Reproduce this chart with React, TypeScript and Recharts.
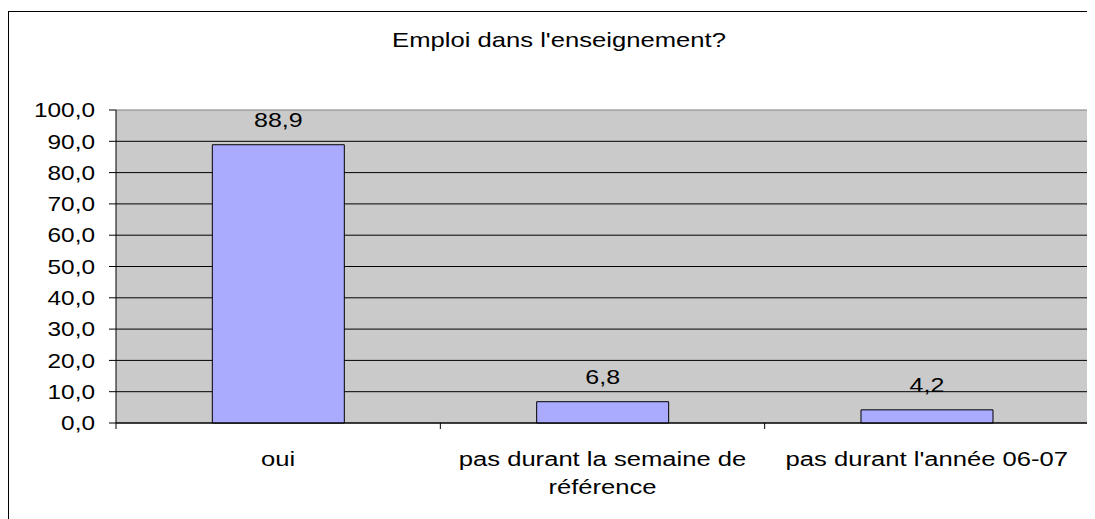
import React from 'react';
import { BarChart, Bar, XAxis, YAxis, CartesianGrid, LabelList } from 'recharts';

const title = "Emploi dans l'enseignement?";
const categories = ['oui', 'pas durant la semaine de référence', "pas durant l'année 06-07"];
const values = [88.9, 6.8, 4.2];
const yTicks = [0, 10, 20, 30, 40, 50, 60, 70, 80, 90, 100];

const data = categories.map((name, i) => ({ name, value: values[i] }));

const FONT = '"Liberation Sans", Arial, sans-serif';
const S = 1.22; // horizontal stretch of the original picture's text
const fmt = (v: number) => v.toFixed(1).replace('.', ',');

let measureCtx: CanvasRenderingContext2D | null = null;
function wrapText(text: string, maxWidth: number, fontSize: number): string[] {
  if (!measureCtx && typeof document !== 'undefined') {
    measureCtx = document.createElement('canvas').getContext('2d');
  }
  const measure = (s: string) => {
    if (measureCtx) {
      measureCtx.font = `${fontSize}px ${FONT}`;
      return measureCtx.measureText(s).width;
    }
    return s.length * fontSize * 0.5;
  };
  const words = text.split(' ');
  const lines: string[] = [];
  let cur = '';
  for (const w of words) {
    const cand = cur ? cur + ' ' + w : w;
    if (cur && measure(cand) > maxWidth) {
      lines.push(cur);
      cur = w;
    } else {
      cur = cand;
    }
  }
  if (cur) lines.push(cur);
  return lines;
}

function XTick(props: any) {
  const { x, y, payload, index, visibleTicksCount, width } = props;
  const band = payload && payload.offset ? payload.offset * 2 : width / visibleTicksCount;
  const left = x - band / 2;
  const right = x + band / 2;
  const lines = wrapText(String(payload.value), (band - 16) / S, 21);
  return (
    <g>
      <line x1={left} x2={left} y1={y} y2={y + 6} stroke="#000" />
      {index === visibleTicksCount - 1 && <line x1={right} x2={right} y1={y} y2={y + 6} stroke="#000" />}
      <text
        transform={`translate(${x} ${y}) scale(${S} 1)`}
        textAnchor="middle"
        fontSize={21}
        fontFamily={FONT}
        fill="#000"
      >
        {lines.map((l, i) => (
          <tspan key={i} x={0} y={43 + i * 28.5}>
            {l}
          </tspan>
        ))}
      </text>
    </g>
  );
}

function YTick(props: any) {
  const { x, y, payload } = props;
  return (
    <text
      transform={`translate(${x} ${y}) scale(${S} 1)`}
      x={0}
      y={0}
      dy={7.2}
      textAnchor="end"
      fontSize={20}
      fontFamily={FONT}
      fill="#000"
    >
      {fmt(payload.value)}
    </text>
  );
}

function BarLabel(props: any) {
  const { x, y, width, value } = props;
  const cx = Number(x) + Number(width) / 2;
  const by = Number(y) - 18;
  return (
    <text
      transform={`translate(${cx} ${by}) scale(${S} 1)`}
      x={0}
      y={0}
      textAnchor="middle"
      fontSize={20.5}
      fontFamily={FONT}
      fill="#000"
    >
      {fmt(Number(value))}
    </text>
  );
}

const hLine = (p: any) => (
  <line
    key={p.key}
    x1={p.x1}
    y1={p.y1}
    x2={p.x2}
    y2={p.y2}
    stroke={p.y !== undefined && Math.abs(p.y1 - p.y) < 1 ? '#808080' : '#000'}
    strokeWidth={1}
  />
);

const vLine = (p: any) => {
  const top = p.y !== undefined ? p.y : p.y1;
  const bottom = p.y !== undefined && p.height !== undefined ? p.y + p.height : p.y2;
  return <line key={p.key} x1={p.x1} y1={top} x2={p.x2} y2={bottom} stroke="#808080" strokeWidth={1} />;
};

export default function App() {
  return (
    <div style={{ position: 'relative', width: 1100, height: 511, overflow: 'hidden', background: '#fff' }}>
      <style>{'html,body{overflow:hidden;}'}</style>
      <div
        style={{
          position: 'absolute',
          left: 0,
          top: 3,
          width: 1100,
          height: 508,
          borderTop: '1px solid #000',
          borderLeft: '1px solid #000',
          boxSizing: 'border-box',
        }}
      />
      <div
        style={{
          position: 'absolute',
          left: 0,
          top: 22.4,
          width: 1102,
          textAlign: 'center',
          fontFamily: FONT,
          fontSize: 21,
          lineHeight: '20px',
          color: '#000',
          transform: `scaleX(${S})`,
          transformOrigin: '551px 0',
          whiteSpace: 'nowrap',
        }}
      >
        {title}
      </div>
      <div style={{ position: 'absolute', left: 0, top: 0 }}>
        <BarChart
          width={1087}
          height={511}
          data={data}
          margin={{ top: 102, right: 6, left: 0, bottom: 0 }}
          barCategoryGap="29.7%"
        >
          <CartesianGrid
            fill="#CACACA"
            fillOpacity={1}
            horizontal={hLine}
            vertical={vLine}
            verticalCoordinatesGenerator={({ offset }: any) => [offset.left + offset.width]}
          />
          <XAxis
            dataKey="name"
            height={96}
            interval={0}
            tickSize={0}
            tickMargin={0}
            tickLine={false}
            axisLine={{ stroke: '#000' }}
            tick={<XTick />}
          />
          <YAxis
            width={108}
            domain={[0, 100]}
            ticks={yTicks}
            interval={0}
            tickSize={7}
            tickMargin={14}
            tickLine={{ stroke: '#000' }}
            axisLine={{ stroke: '#000' }}
            tick={<YTick />}
          />
          <Bar dataKey="value" fill="#AAAAFF" stroke="#000" strokeWidth={1} isAnimationActive={false}>
            <LabelList dataKey="value" content={<BarLabel />} />
          </Bar>
        </BarChart>
      </div>
    </div>
  );
}
